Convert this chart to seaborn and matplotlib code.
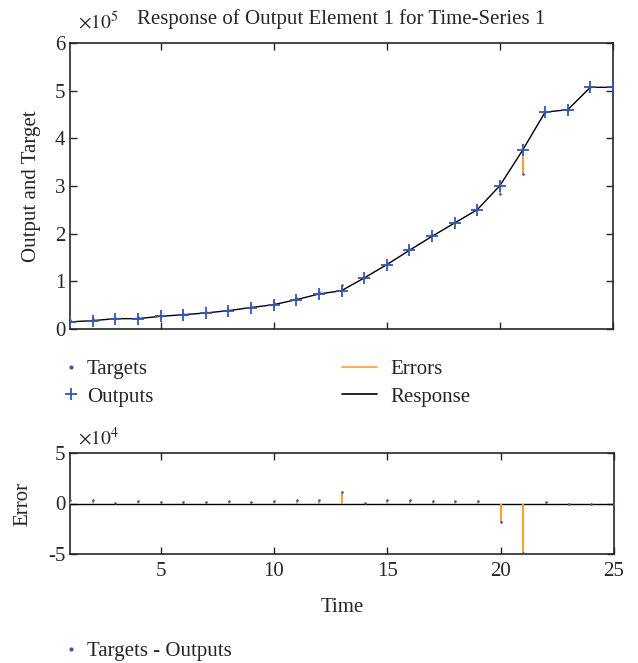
import numpy as np
import pandas as pd
import seaborn as sns
import matplotlib.pyplot as plt
from matplotlib.lines import Line2D

# Data
time = list(range(1, 26))
# network outputs, x1e5
outputs = [0.15, 0.175, 0.217, 0.217, 0.266, 0.30, 0.336, 0.385, 0.45, 0.51,
           0.615, 0.734, 0.804, 1.07, 1.35, 1.65, 1.944, 2.224, 2.503, 3.007,
           3.748, 4.55, 4.60, 5.07, 5.07]
# targets - outputs, x1e4
errors = [0.36, 0.33, 0.07, 0.26, 0.13, 0.16, 0.16, 0.20, 0.13, 0.26,
          0.36, 0.39, 1.18, 0.02, 0.39, 0.33, 0.26, 0.26, 0.20, -1.84,
          -4.93, 0.10, 0.0, 0.0, 0.0]

df = pd.DataFrame({"time": time, "output": outputs, "error": errors})
df["target"] = df["output"] + df["error"] / 10.0

blue = "#3557b0"
orange = "#f9a030"
dark = "#262626"

sns.set_theme(style="ticks")
plt.rcParams["font.family"] = ["Liberation Serif", "DejaVu Serif"]
plt.rcParams["mathtext.fontset"] = "stix"
plt.rcParams["axes.unicode_minus"] = False
plt.rcParams["axes.edgecolor"] = dark
plt.rcParams["xtick.color"] = dark
plt.rcParams["ytick.color"] = dark
plt.rcParams["text.color"] = dark
plt.rcParams["axes.labelcolor"] = dark

W, H = 638, 663
fig = plt.figure(figsize=(W / 100, H / 100), dpi=100)
ax1 = fig.add_axes([70 / W, 1 - 329 / H, 543 / W, 286 / H])
ax2 = fig.add_axes([70 / W, 1 - 554 / H, 544 / W, 101 / H])

fs = 15

# ---- top: response
ax1.vlines(df["time"], df["output"], df["target"], color=orange, lw=1.5, zorder=2)
sns.lineplot(data=df, x="time", y="output", color="black", lw=1.0, ax=ax1, zorder=3)
sns.scatterplot(data=df, x="time", y="target", marker=".", s=14, color=blue,
                edgecolor=None, linewidth=0, ax=ax1, zorder=4)
sns.scatterplot(data=df, x="time", y="output", marker="+", s=70, color=blue,
                linewidth=1.3, ax=ax1, zorder=5)
ax1.set_xlim(1, 25)
ax1.set_ylim(0, 6)
ax1.set_xticks([5, 10, 15, 20, 25])
ax1.set_xticklabels([])
ax1.set_yticks(range(0, 7))
ax1.set_xlabel("")
ax1.set_ylabel("Output and Target", fontsize=fs, labelpad=10)
ax1.set_title("Response of Output Element 1 for Time-Series 1", fontsize=15, pad=14)
ax1.text(0.015, 1.035, r"$\times10^{5}$", transform=ax1.transAxes, fontsize=14,
         va="bottom", ha="left")

# ---- bottom: errors
ax2.axhline(0, color="black", lw=1.0, zorder=2)
ax2.vlines(df["time"], 0, df["error"], color=orange, lw=1.5, zorder=3)
sns.scatterplot(data=df, x="time", y="error", marker=".", s=14, color=blue,
                edgecolor=None, linewidth=0, ax=ax2, zorder=4)
ax2.set_xlim(1, 25)
ax2.set_ylim(-5, 5)
ax2.set_xticks([5, 10, 15, 20, 25])
ax2.set_yticks([-5, 0, 5])
ax2.set_xlabel("Time", fontsize=fs, labelpad=12)
ax2.set_ylabel("Error", fontsize=fs, labelpad=11)
ax2.text(0.015, 1.04, r"$\times10^{4}$", transform=ax2.transAxes, fontsize=14,
         va="bottom", ha="left")

for ax in (ax1, ax2):
    ax.tick_params(direction="in", top=True, right=True, labelsize=fs,
                   length=5, width=1.0)
    ax.tick_params(axis="x", pad=6)
    for s in ax.spines.values():
        s.set_linewidth(1.2)

# ---- legends
h_t = Line2D([], [], ls="none", marker=".", ms=4, color=blue)
h_o = Line2D([], [], ls="none", marker="+", ms=8, mew=1.3, color=blue)
h_e = Line2D([], [], color=orange, lw=1.2)
h_r = Line2D([], [], color="black", lw=1.2)

kw = dict(frameon=False, fontsize=fs, borderpad=0, borderaxespad=0,
          labelspacing=0.4, loc="center left")
leg1 = fig.legend([h_t, h_o], ["Targets", "Outputs"], handlelength=0.8,
                  handletextpad=0.35, bbox_to_anchor=(63 / W, 1 - 383 / H), **kw)
leg2 = fig.legend([h_e, h_r], ["Errors", "Response"], handlelength=1.7,
                  handletextpad=0.6, bbox_to_anchor=(342 / W, 1 - 383 / H), **kw)
leg3 = fig.legend([h_t], ["Targets - Outputs"], handlelength=0.8,
                  handletextpad=0.35, bbox_to_anchor=(63 / W, 1 - 651 / H), **kw)

fig.savefig("out.png", dpi=100)
